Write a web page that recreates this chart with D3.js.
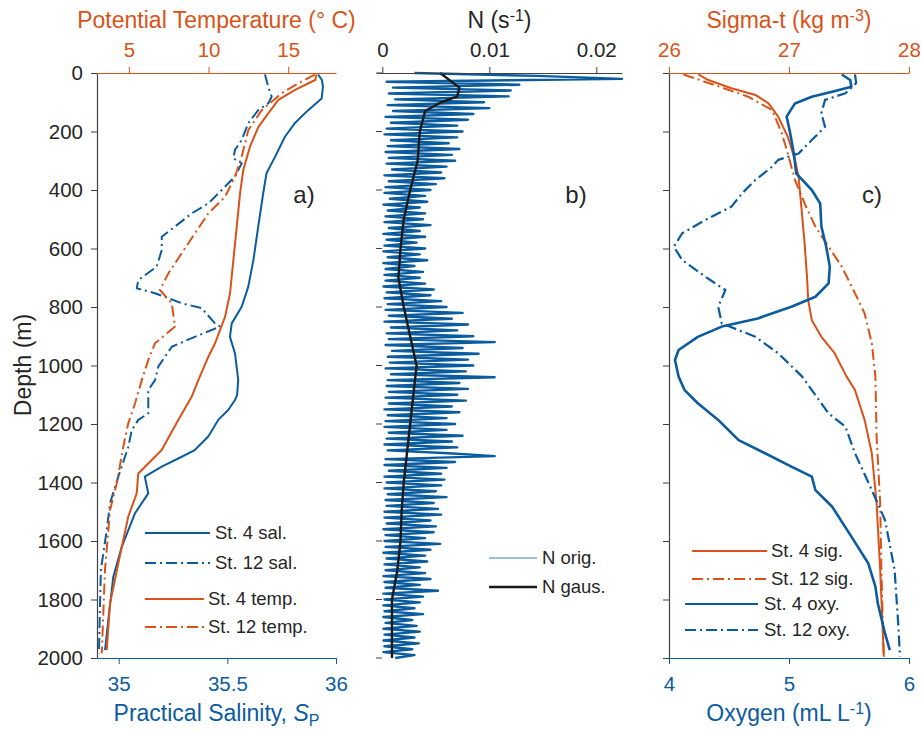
<!DOCTYPE html>
<html>
<head>
<meta charset="utf-8">
<script src="https://cdn.jsdelivr.net/npm/d3@7"></script>
<style>
  html, body { margin: 0; padding: 0; background: #fff; }
  svg { display: block; font-family: "Liberation Sans", Arial, sans-serif; }
</style>
</head>
<body>
<svg id="chart" width="921" height="731"></svg>
<script>
// ---- data ----
var depthTicks = [0, 200, 400, 600, 800, 1000, 1200, 1400, 1600, 1800, 2000];
var tempTicks = [5, 10, 15];
var salTicks = [35, 35.5, 36];
var nTicks = [0, 0.01, 0.02];
var sigTicks = [26, 27, 28];
var oxyTicks = [4, 5, 6];

// panel a
var sal4Depth = [5, 24, 47, 87, 127, 172, 218, 286, 343, 411, 525, 639, 731, 799, 856, 902, 958, 1050, 1100, 1118, 1152, 1186, 1243, 1289, 1312, 1346, 1380, 1437, 1505, 1620, 1722, 1870, 1973];
var sal4 = [35.918, 35.935, 35.94, 35.934, 35.872, 35.81, 35.765, 35.72, 35.68, 35.665, 35.642, 35.62, 35.596, 35.566, 35.52, 35.512, 35.535, 35.55, 35.545, 35.535, 35.504, 35.458, 35.412, 35.35, 35.29, 35.198, 35.12, 35.136, 35.075, 35.014, 34.975, 34.952, 34.937];

var sal12Depth = [5, 47, 81, 104, 127, 172, 229, 263, 292, 309, 354, 400, 446, 480, 525, 560, 605, 662, 708, 736, 753, 787, 804, 856, 867, 902, 936, 1004, 1050, 1084, 1164, 1186, 1221, 1278, 1380, 1471, 1562, 1699, 1813, 1984];
var sal12 = [35.673, 35.688, 35.704, 35.688, 35.642, 35.596, 35.566, 35.535, 35.527, 35.566, 35.535, 35.474, 35.412, 35.336, 35.259, 35.198, 35.198, 35.175, 35.09, 35.083, 35.167, 35.29, 35.382, 35.443, 35.466, 35.35, 35.244, 35.182, 35.167, 35.136, 35.136, 35.09, 35.06, 35.044, 34.998, 34.96, 34.945, 34.918, 34.914, 34.909];

var temp4Depth = [5, 24, 58, 92, 138, 184, 252, 332, 411, 525, 639, 753, 833, 924, 970, 1050, 1107, 1186, 1289, 1346, 1369, 1437, 1517, 1676, 1813, 1973];
var temp4 = [16.79, 16.69, 15.43, 14.38, 13.75, 13.13, 12.6, 12.18, 11.98, 11.77, 11.56, 11.35, 11.04, 10.41, 9.99, 9.36, 8.94, 8.1, 7.06, 6.01, 5.59, 5.49, 4.96, 4.34, 3.82, 3.61];

var temp12Depth = [5, 35, 69, 127, 195, 286, 354, 423, 480, 548, 616, 685, 742, 787, 867, 924, 981, 1050, 1129, 1198, 1278, 1403, 1494, 1699, 1984];
var temp12 = [16.69, 15.64, 14.59, 13.34, 12.5, 12.08, 11.66, 11.04, 9.99, 9.15, 8.32, 7.48, 6.95, 7.69, 7.9, 6.64, 6.22, 5.81, 5.39, 4.96, 4.65, 4.24, 3.82, 3.5, 3.3];

// panel b: N original, every 10 m from 0 to 2000 m
var nOrig = [
  0.0030, 0.0145, 0.0224, 0.0004, 0.0128, 0.0010, 0.0120, 0.0006, 0.0118, 0.0012,
  0.0095, 0.0005, 0.0100, 0.0010, 0.0085, 0.0003, 0.0080, 0.0008, 0.0070, 0.0004,
  0.0075, 0.0002, 0.0070, 0.0008, 0.0062, 0.0005, 0.0072, 0.0003, 0.0065, 0.0006,
  0.0068, 0.0004, 0.0060, 0.0009, 0.0055, 0.0002, 0.0058, 0.0006, 0.0050, 0.0003,
  0.0045, 0.0002, 0.0040, 0.0007, 0.0042, 0.0001, 0.0035, 0.0005, 0.0040, 0.0003,
  0.0038, 0.0002, 0.0045, 0.0006, 0.0035, 0.0001, 0.0040, 0.0004, 0.0032, 0.0002,
  0.0040, 0.0001, 0.0035, 0.0005, 0.0042, 0.0001, 0.0030, 0.0003, 0.0038, 0.0002,
  0.0035, 0.0003, 0.0040, 0.0001, 0.0048, 0.0004, 0.0045, 0.0002, 0.0055, 0.0005,
  0.0060, 0.0003, 0.0075, 0.0006, 0.0065, 0.0002, 0.0080, 0.0008, 0.0070, 0.0004,
  0.0085, 0.0006, 0.0105, 0.0003, 0.0075, 0.0009, 0.0090, 0.0005, 0.0080, 0.0007,
  0.0085, 0.0003, 0.0078, 0.0008, 0.0105, 0.0005, 0.0072, 0.0004, 0.0080, 0.0006,
  0.0070, 0.0003, 0.0078, 0.0006, 0.0065, 0.0002, 0.0072, 0.0005, 0.0060, 0.0003,
  0.0068, 0.0002, 0.0060, 0.0006, 0.0075, 0.0004, 0.0065, 0.0002, 0.0070, 0.0005,
  0.0062, 0.0105, 0.0003, 0.0068, 0.0002, 0.0060, 0.0006, 0.0055, 0.0002, 0.0058,
  0.0004, 0.0055, 0.0002, 0.0050, 0.0005, 0.0060, 0.0003, 0.0048, 0.0004, 0.0052,
  0.0002, 0.0055, 0.0002, 0.0045, 0.0004, 0.0050, 0.0001, 0.0048, 0.0003, 0.0040,
  0.0002, 0.0054, 0.0003, 0.0045, 0.0001, 0.0040, 0.0004, 0.0042, 0.0002, 0.0035,
  0.0003, 0.0040, 0.0001, 0.0045, 0.0002, 0.0035, 0.0003, 0.0052, 0.0001, 0.0038,
  0.0002, 0.0035, 0.0001, 0.0030, 0.0002, 0.0038, 0.0001, 0.0028, 0.0003, 0.0032,
  0.0001, 0.0035, 0.0002, 0.0030, 0.0001, 0.0034, 0.0002, 0.0028, 0.0001, 0.0030,
  0.0012
];
var nGausDepth = [0, 50, 80, 100, 130, 200, 300, 400, 500, 600, 700, 800, 900, 1000, 1100, 1200, 1300, 1400, 1500, 1600, 1700, 1800, 2000];
var nGaus = [0.0054, 0.0072, 0.0070, 0.0055, 0.0040, 0.0035, 0.0033, 0.0026, 0.0020, 0.0017, 0.0015, 0.0020, 0.0026, 0.0032, 0.0029, 0.0026, 0.0023, 0.0020, 0.0018, 0.0017, 0.0014, 0.0009, 0.0009];

// panel c
var sig4Depth = [5, 24, 52, 75, 104, 149, 218, 297, 354, 468, 582, 696, 776, 845, 902, 958, 1038, 1084, 1186, 1300, 1471, 1699, 1996];
var sig4 = [26.244, 26.328, 26.52, 26.72, 26.83, 26.91, 26.99, 27.05, 27.08, 27.105, 27.13, 27.15, 27.16, 27.19, 27.27, 27.38, 27.48, 27.55, 27.63, 27.69, 27.73, 27.76, 27.79];

var sig12Depth = [5, 41, 81, 127, 206, 275, 366, 446, 525, 594, 662, 753, 822, 924, 1038, 1243, 1471, 1699, 1996];
var sig12 = [26.12, 26.38, 26.66, 26.86, 26.94, 26.99, 27.05, 27.13, 27.22, 27.33, 27.44, 27.55, 27.63, 27.69, 27.72, 27.73, 27.76, 27.77, 27.79];

var oxy4Depth = [5, 24, 47, 64, 81, 104, 149, 206, 275, 343, 400, 446, 525, 594, 662, 719, 765, 799, 839, 867, 902, 947, 981, 1038, 1084, 1129, 1186, 1255, 1300, 1346, 1380, 1426, 1483, 1585, 1676, 1756, 1813, 1916, 1973];
var oxy4 = [5.44, 5.51, 5.52, 5.36, 5.19, 5.05, 4.98, 5.01, 5.04, 5.06, 5.19, 5.26, 5.27, 5.31, 5.34, 5.33, 5.22, 5.02, 4.74, 4.44, 4.24, 4.08, 4.05, 4.08, 4.13, 4.24, 4.41, 4.58, 4.80, 5.02, 5.19, 5.22, 5.36, 5.52, 5.66, 5.72, 5.74, 5.80, 5.84];

var oxy12Depth = [5, 35, 69, 92, 138, 184, 229, 275, 297, 320, 366, 411, 457, 503, 548, 594, 639, 696, 742, 799, 856, 902, 958, 1038, 1084, 1164, 1209, 1300, 1426, 1528, 1699, 1882, 1996];
var oxy12 = [5.55, 5.56, 5.47, 5.30, 5.27, 5.30, 5.19, 5.08, 4.91, 4.86, 4.72, 4.61, 4.52, 4.30, 4.11, 4.04, 4.11, 4.30, 4.47, 4.41, 4.44, 4.72, 4.91, 5.11, 5.19, 5.33, 5.47, 5.55, 5.69, 5.80, 5.88, 5.91, 5.925];

// ---- styling ----
var BLUE = "#0b5c9e", ORANGE = "#d95319", GREY = "#404040", TXT = "#262626";
var DASHDOT = "11,4,2,4";
var TICK_FS = "20.5px", LAB_FS = "23px", LEG_FS = "18.5px";

var svg = d3.select("#chart");
var plotTop = 73, plotBottom = 658;
var y = d3.scaleLinear().domain([0, 2000]).range([plotTop, plotBottom]);

function zip(depths, vals){ var out = []; for (var i = 0; i < depths.length; i++) out.push([vals[i], depths[i]]); return out; }

function drawLine(g, data, xs, color, width, dash){
  var line = d3.line().x(function(d){ return xs(d[0]); }).y(function(d){ return y(d[1]); });
  g.append("path").datum(data)
    .attr("fill", "none").attr("stroke", color).attr("stroke-width", width)
    .attr("stroke-linejoin", "round")
    .attr("stroke-dasharray", dash || null)
    .attr("d", line);
}

function styleAxis(sel, color, labelColor){
  sel.select(".domain").attr("stroke", color).attr("stroke-width", 1.2);
  sel.selectAll(".tick line").attr("stroke", color);
  sel.selectAll(".tick text").attr("fill", labelColor).style("font-size", TICK_FS).style("font-family", "Liberation Sans, Arial, sans-serif");
}

function leftAxis(x0, labels){
  var ax = d3.axisLeft(y).tickValues(depthTicks).tickSize(6).tickPadding(8).tickSizeOuter(0).tickFormat(d3.format("d"));
  if (!labels) ax.tickFormat("");
  var g = svg.append("g").attr("transform", "translate(" + x0 + ",0)").call(ax);
  styleAxis(g, GREY, TXT);
  return g;
}

function topAxis(xs, ticks, color, labelColor, fmt){
  var ax = d3.axisTop(xs).tickValues(ticks).tickSize(6).tickPadding(10).tickSizeOuter(0).tickFormat(fmt);
  var g = svg.append("g").attr("transform", "translate(0," + plotTop + ")").call(ax);
  styleAxis(g, color, labelColor);
  g.selectAll(".tick text").attr("dy", "0em");
}

function bottomAxis(xs, ticks, color, fmt){
  var ax = d3.axisBottom(xs).tickValues(ticks).tickSize(6).tickPadding(12).tickSizeOuter(0).tickFormat(fmt);
  var g = svg.append("g").attr("transform", "translate(0," + plotBottom + ")").call(ax);
  styleAxis(g, color, color);
}

function legendRow(x1, x2, yy, textX, color, width, dash, label){
  svg.append("line").attr("x1", x1).attr("x2", x2).attr("y1", yy).attr("y2", yy)
    .attr("stroke", color).attr("stroke-width", width).attr("stroke-dasharray", dash || null);
  svg.append("text").attr("x", textX).attr("y", yy).attr("dy", "0.35em")
    .attr("fill", TXT).style("font-size", LEG_FS).text(label);
}

// ---- panel a ----
var xSal = d3.scaleLinear().domain([34.9, 36]).range([97, 336]);
var xTemp = d3.scaleLinear().domain([3, 18]).range([97, 336]);
var ga = svg.append("g");
drawLine(ga, zip(sal4Depth, sal4), xSal, BLUE, 2);
drawLine(ga, zip(sal12Depth, sal12), xSal, BLUE, 2, DASHDOT);
drawLine(ga, zip(temp4Depth, temp4), xTemp, ORANGE, 2);
drawLine(ga, zip(temp12Depth, temp12), xTemp, ORANGE, 2, DASHDOT);
leftAxis(97, true);
topAxis(xTemp, tempTicks, ORANGE, ORANGE, d3.format("d"));
bottomAxis(xSal, salTicks, BLUE, function(d){ return String(d); });

// ---- panel b ----
var xN = d3.scaleLinear().domain([-0.0005, 0.0224]).range([377, 622]);
var gb = svg.append("g");
var nDepth = d3.range(0, 2001, 10);
drawLine(gb, zip(nDepth, nOrig), xN, BLUE, 2.4);
drawLine(gb, zip(nGausDepth, nGaus), xN, "#1a1a1a", 2.4);
svg.append("g").selectAll("line").data(depthTicks).enter().append("line")
  .attr("x1", 376).attr("x2", 382).attr("y1", function(d){ return y(d); }).attr("y2", function(d){ return y(d); })
  .attr("stroke", GREY);
topAxis(xN, nTicks, GREY, TXT, function(d){ return d === 0 ? "0" : String(d); });

// ---- panel c ----
var xSig = d3.scaleLinear().domain([26, 28]).range([669, 909]);
var xOxy = d3.scaleLinear().domain([4, 6]).range([669, 909]);
var gc = svg.append("g");
drawLine(gc, zip(sig4Depth, sig4), xSig, ORANGE, 2);
drawLine(gc, zip(sig12Depth, sig12), xSig, ORANGE, 2, DASHDOT);
drawLine(gc, zip(oxy4Depth, oxy4), xOxy, BLUE, 2.6);
drawLine(gc, zip(oxy12Depth, oxy12), xOxy, BLUE, 2.2, DASHDOT);
leftAxis(669, false);
topAxis(xSig, sigTicks, ORANGE, ORANGE, d3.format("d"));
bottomAxis(xOxy, oxyTicks, BLUE, d3.format("d"));

// ---- axis titles ----
function title(x, yy, color, parts, rotate){
  var t = svg.append("text").attr("x", x).attr("y", yy).attr("text-anchor", "middle")
    .attr("fill", color).style("font-size", LAB_FS);
  if (rotate) t.attr("transform", "rotate(-90," + x + "," + yy + ")");
  parts.forEach(function(p){
    var s = t.append("tspan").text(p.t);
    if (p.sup) s.attr("dy", "-0.45em").style("font-size", "16px");
    if (p.sub) s.attr("dy", "0.3em").style("font-size", "16px");
    if (p.it) s.style("font-style", "italic");
    if (p.back) s.attr("dy", p.back);
  });
}
title(216.5, 28, ORANGE, [{t: "Potential Temperature (\u00b0 C)"}]);
title(499.5, 28, TXT, [{t: "N (s"}, {t: "-1", sup: true}, {t: ")", back: "0.3em"}]);
title(789, 28, ORANGE, [{t: "Sigma-t (kg m"}, {t: "-3", sup: true}, {t: ")", back: "0.3em"}]);
title(216.5, 721, BLUE, [{t: "Practical Salinity, "}, {t: "S", it: true}, {t: "P", sub: true}]);
title(789, 721, BLUE, [{t: "Oxygen (mL L"}, {t: "-1", sup: true}, {t: ")", back: "0.3em"}]);
title(31, 365, TXT, [{t: "Depth (m)"}], true);

// ---- panel letters ----
[["a)", 304], ["b)", 576], ["c)", 872]].forEach(function(p){
  svg.append("text").attr("x", p[1]).attr("y", 203).attr("text-anchor", "middle")
    .attr("fill", TXT).style("font-size", "24px").text(p[0]);
});

// ---- legends ----
legendRow(145, 210, 533, 215, BLUE, 2, null, "St. 4 sal.");
legendRow(145, 210, 563, 215, BLUE, 2, DASHDOT, "St. 12 sal.");
legendRow(145, 204, 599, 208, ORANGE, 2, null, "St. 4 temp.");
legendRow(145, 204, 627, 208, ORANGE, 2, DASHDOT, "St. 12 temp.");

legendRow(489, 537, 558, 542, "#3a7fbf", 1, null, "N orig.");
legendRow(489, 537, 587, 542, "#1a1a1a", 2.4, null, "N gaus.");

legendRow(692, 767, 551, 771, ORANGE, 2, null, "St. 4 sig.");
legendRow(692, 767, 579, 771, ORANGE, 2, DASHDOT, "St. 12 sig.");
legendRow(685, 758, 604, 764, BLUE, 2, null, "St. 4 oxy.");
legendRow(685, 758, 630, 764, BLUE, 2, DASHDOT, "St. 12 oxy.");
</script>
</body>
</html>
